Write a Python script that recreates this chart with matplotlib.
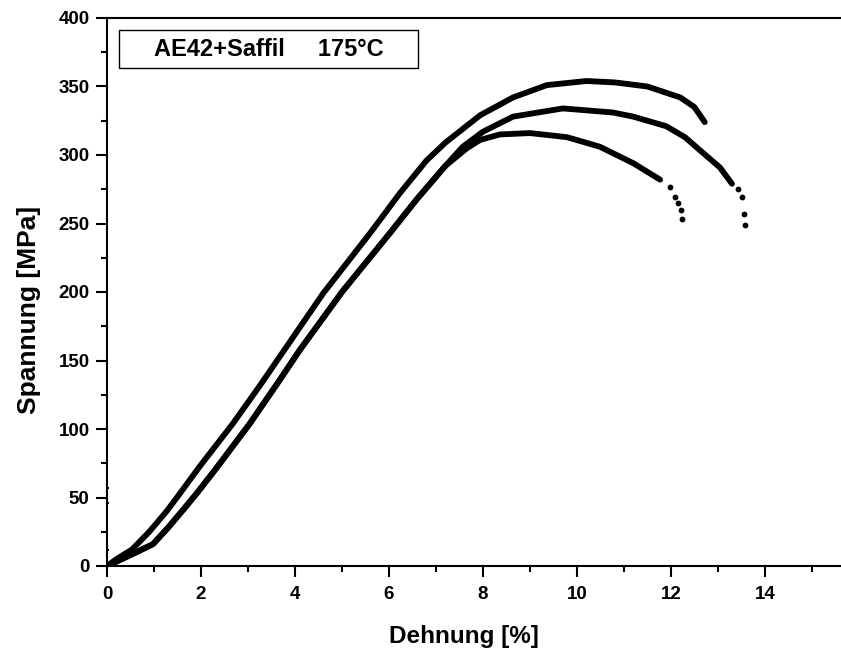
import matplotlib
matplotlib.use("Agg")
import matplotlib.pyplot as plt
from matplotlib.patches import Rectangle
from matplotlib.ticker import MultipleLocator

plt.rcParams['font.family'] = ['Liberation Sans', 'DejaVu Sans']
plt.rcParams['font.weight'] = 'bold'

# Specimen 1 (highest strength)
s1_x = [0, 0.2, 0.53, 0.9, 1.27, 1.51, 1.98, 2.68, 3.26, 3.68, 4.6, 5.6, 6.23, 6.8,
        7.2, 7.94, 8.64, 9.36, 10.2, 10.8, 11.5, 12.2, 12.5, 12.72]
s1_y = [0, 5, 12, 25, 40, 51, 73, 104, 132, 153, 199, 243, 272, 296,
        309, 329, 342, 351, 354, 353, 350, 342, 335, 324]

# Specimen 2
s2_x = [0, 0.5, 0.98, 1.3, 1.62, 1.91, 2.34, 3.04, 3.68, 4.11, 5.0, 6.02, 6.6, 7.2,
        7.57, 8.0, 8.64, 9.7, 10.77, 11.2, 11.9, 12.3, 12.6, 13.04, 13.3]
s2_y = [0, 8, 16, 28, 41, 53, 72, 104, 136, 158, 200, 243, 268, 292,
        306, 317, 328, 334, 331, 328, 321, 313, 304, 291, 279]
s2_tail_x = [13.43, 13.51, 13.55, 13.57]
s2_tail_y = [275, 269, 257, 249]

# Specimen 3
s3_x = [0, 0.5, 0.98, 1.3, 1.62, 1.91, 2.34, 3.04, 3.68, 4.11, 5.0, 6.02, 6.6, 7.2,
        7.66, 7.94, 8.36, 9.0, 9.79, 10.49, 11.2, 11.77]
s3_y = [0, 8, 16, 28, 41, 53, 72, 104, 136, 158, 200, 243, 268, 292,
        305, 311, 315, 316, 313, 306, 294, 282]
s3_tail_x = [11.98, 12.09, 12.15, 12.21, 12.23]
s3_tail_y = [277, 269, 265, 260, 253]

# Isolated readings at zero strain
stray_x = [0.02, 0.02, 0.02]
stray_y = [57, 46, 12]

x_ticks = [0, 2, 4, 6, 8, 10, 12, 14]
y_ticks = [0, 50, 100, 150, 200, 250, 300, 350, 400]
title_text = "AE42+Saffil     175°C"

W, H = 841, 654
fig = plt.figure(figsize=(W / 100, H / 100), dpi=100)
ax = fig.add_axes([107 / W, 88 / H, 734 / W, 548 / H])

lw = 4.2
for xs, ys in [(s1_x, s1_y), (s2_x, s2_y), (s3_x, s3_y)]:
    ax.plot(xs, ys, color='black', lw=lw, solid_capstyle='round',
            solid_joinstyle='round')
for xs, ys in [(s2_tail_x, s2_tail_y), (s3_tail_x, s3_tail_y)]:
    ax.plot(xs, ys, 'o', color='black', ms=4.2, mew=0)
ax.plot(stray_x, stray_y, 's', color='black', ms=2, mew=0)

ax.set_xlim(0, 15.62)
ax.set_ylim(0, 400)
ax.set_xticks(x_ticks)
ax.set_yticks(y_ticks)
ax.xaxis.set_minor_locator(MultipleLocator(1))
ax.yaxis.set_minor_locator(MultipleLocator(25))

ax.spines['right'].set_visible(False)
for sp in ['left', 'bottom', 'top']:
    ax.spines[sp].set_linewidth(1.5)

ax.tick_params(which='major', direction='out', length=8, width=1.5,
               labelsize=13.5, top=False, right=False)
ax.tick_params(which='minor', direction='out', length=4.5, width=1.5,
               top=False, right=False)
ax.tick_params(axis='x', which='major', pad=6.5)
ax.tick_params(axis='y', which='major', pad=4.5)
for lab in ax.get_xticklabels() + ax.get_yticklabels():
    lab.set_fontweight('bold')

# Axis titles
fig.text(464 / W, 1 - 636 / H, "Dehnung [%]", ha='center', va='center',
         fontsize=17.5, fontweight='bold')
fig.text(29 / W, 1 - 310 / H, "Spannung [MPa]", ha='center', va='center',
         rotation=90, fontsize=19, fontweight='bold')

# Label box in the upper left
x0, x1 = (119 - 107) / 734, (418 - 107) / 734
y0, y1 = (566 - 68) / 548, (566 - 30) / 548
ax.add_patch(Rectangle((x0, y0), x1 - x0, y1 - y0, transform=ax.transAxes,
                       fill=False, edgecolor='black', lw=1.0, clip_on=False))
ax.text((x0 + x1) / 2, (y0 + y1) / 2, title_text, transform=ax.transAxes,
        ha='center', va='center', fontsize=17, fontweight='bold')

fig.savefig("out.png", dpi=100)
